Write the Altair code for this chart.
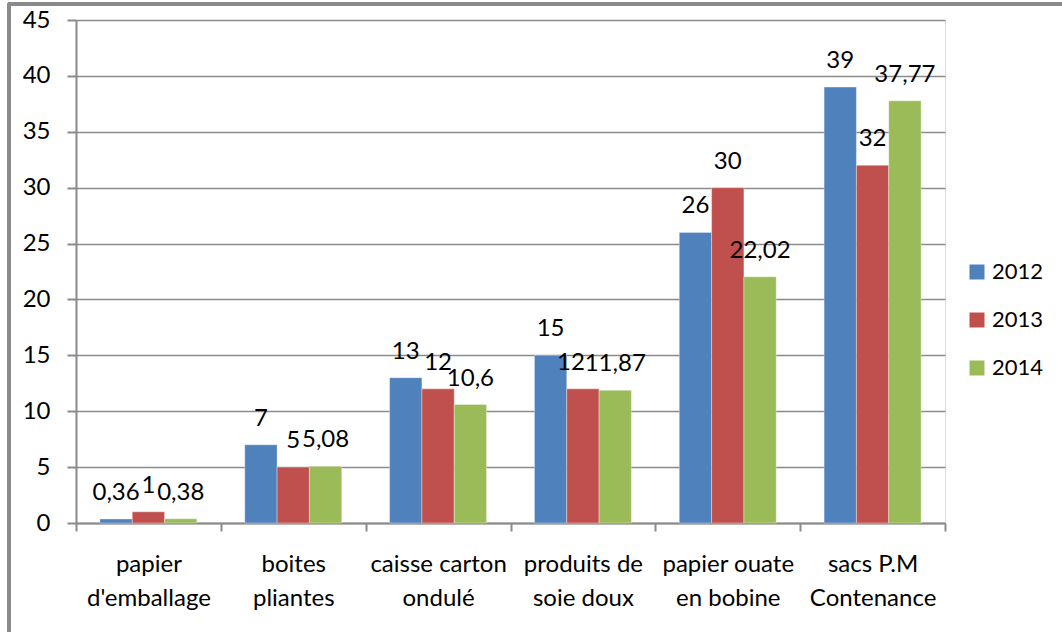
import altair as alt
import pandas as pd

categories = ["papier|d'emballage", "boites|pliantes", "caisse carton|ondulé",
              "produits de|soie doux", "papier ouate|en bobine", "sacs P.M|Contenance"]
years = ["2012", "2013", "2014"]
v2012 = [0.36, 7, 13, 15, 26, 39]
v2013 = [1, 5, 12, 12, 30, 32]
v2014 = [0.38, 5.08, 10.6, 11.87, 22.02, 37.77]
colors = ["#4F81BD", "#C0504D", "#9BBB59"]
y_ticks = [0, 5, 10, 15, 20, 25, 30, 35, 40, 45]

rows = []
for yr, vals in zip(years, [v2012, v2013, v2014]):
    for c, v in zip(categories, vals):
        rows.append({"cat": c, "year": yr, "value": v,
                     "label": (f"{v:g}").replace(".", ",")})
df = pd.DataFrame(rows)

W, H = 869, 503
FONT = "Lato"
GRAY = "#8a8a8a"

x = alt.X("cat:N", sort=categories, title=None,
          scale=alt.Scale(paddingInner=0, paddingOuter=0),
          axis=alt.Axis(labelExpr="split(datum.label, '|')", labelAngle=0,
                        labelFontSize=24, labelFont=FONT, labelColor="#000",
                        labelLineHeight=34, tickBand="extent", tickSize=8,
                        tickColor=GRAY, tickWidth=2, domainColor=GRAY,
                        domainWidth=2, labelPadding=21, grid=False))
xo = alt.XOffset("year:N", sort=years, scale=alt.Scale(paddingOuter=0.74, paddingInner=0))
y = alt.Y("value:Q", title=None,
          scale=alt.Scale(domain=[0, 45], nice=False),
          axis=alt.Axis(values=y_ticks, labelFontSize=24, labelFont=FONT,
                        labelColor="#000", tickSize=9, tickColor=GRAY, tickWidth=2,
                        domainColor=GRAY, domainWidth=2, gridColor=GRAY,
                        gridWidth=1.5, labelPadding=17))

bars = alt.Chart(df).mark_bar(stroke="#ffffff", strokeWidth=0.6, strokeOpacity=0.6).encode(
    x=x, xOffset=xo, y=y,
    color=alt.Color("year:N", sort=years,
                    scale=alt.Scale(domain=years, range=colors),
                    legend=alt.Legend(title=None, orient="none", legendX=890, legendY=241,
                                      symbolType="square", symbolSize=225,
                                      symbolStrokeWidth=0, labelFontSize=22,
                                      labelFont=FONT, labelColor="#000",
                                      labelOffset=4, rowPadding=26, padding=0)),
)

# the reference nudges one crowded label ("12" above produits de soie doux, 2013) to the left
shifted = (alt.datum.cat == "produits de|soie doux") & (alt.datum.year == "2013")

labels = alt.Chart(df).transform_filter(~shifted).mark_text(
    font=FONT, fontSize=24, baseline="alphabetic", dy=-19, color="#000").encode(
    x=alt.X("cat:N", sort=categories), xOffset=xo, y="value:Q", text="label:N")

labels_shifted = alt.Chart(df).transform_filter(shifted).mark_text(
    font=FONT, fontSize=24, baseline="alphabetic", dy=-19, dx=-12, color="#000").encode(
    x=alt.X("cat:N", sort=categories), xOffset=xo, y="value:Q", text="label:N")

border_left = alt.Chart(df).mark_rule(color=GRAY, strokeWidth=3).encode(
    x=alt.value(-67), y=alt.value(-17), y2=alt.value(H + 120))
border_top = alt.Chart(df).mark_rule(color=GRAY, strokeWidth=3).encode(
    x=alt.value(-68), x2=alt.value(W + 130), y=alt.value(-16))

chart = alt.layer(bars, labels, labels_shifted, border_left, border_top).properties(
    width=W, height=H,
    padding={"left": 76, "top": 20, "right": 117, "bottom": 109},
    autosize=alt.AutoSizeParams(type="none"),
).configure_view(stroke=None).configure(font=FONT)

chart.save("out.html", embed_options={"renderer": "svg", "actions": False})
